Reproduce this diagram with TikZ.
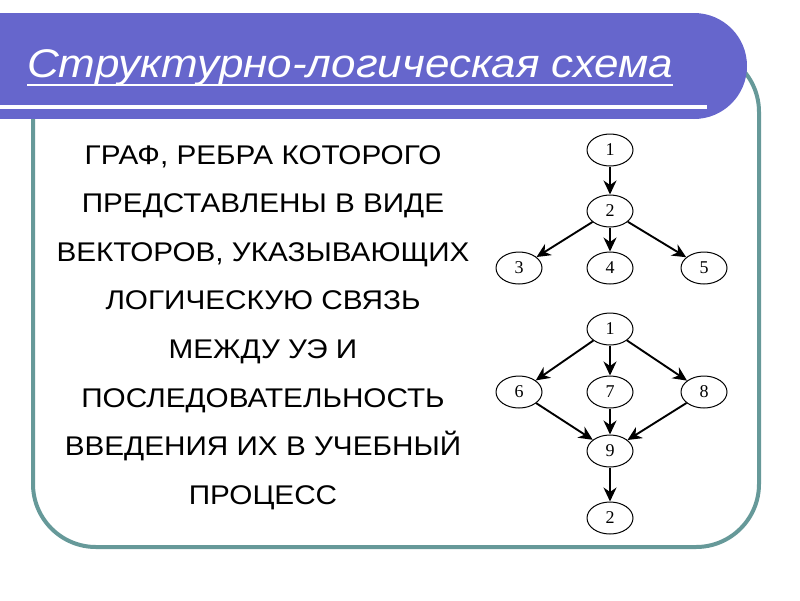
\documentclass[tikz,border=0pt]{standalone}
\usepackage{fontspec}
\setmainfont{Liberation Sans}[FakeStretch=1.1]
\newfontfamily\numfont{Liberation Serif}
\usetikzlibrary{shapes.geometric, arrows.meta}

\definecolor{barblue}{HTML}{6666CC}
\definecolor{frameteal}{HTML}{669999}

\begin{document}
\begin{tikzpicture}[x=1pt, y=-1pt,
	vertex/.style={ellipse, draw, line width=1pt, minimum width=46pt, minimum height=32pt, inner sep=0pt, font=\numfont\fontsize{18}{18}\selectfont},
	edge/.style={-{Stealth[length=14pt, width=13pt, inset=4.5pt]}, line width=1.9pt},
	bodyline/.style={anchor=base, inner sep=0pt, font=\fontsize{27}{27}\selectfont}]

	\useasboundingbox (0,0) rectangle (800,600);

	% frame and title bar
	\draw[frameteal, line width=4pt, rounded corners=63pt] (33,49) rectangle (759,547);

	\fill[barblue] (0,13) rectangle (694,119);
	\fill[barblue] (694,66) ellipse [x radius=53, y radius=53];

	\draw[white, line width=3.5pt] (0,107) -- (707,107);

	\node[anchor=base west, inner sep=0pt, text=white, font=\itshape\fontsize{40}{40}\selectfont] (title) at (27,77) {Структурно-логическая схема};
	\draw[white, line width=2pt] ([yshift=-8pt]title.base west) -- ([yshift=-8pt]title.base east);

	% text on the left
	\foreach \txt [count=\i] in {{ГРАФ, РЕБРА КОТОРОГО}, {ПРЕДСТАВЛЕНЫ В ВИДЕ}, {ВЕКТОРОВ, УКАЗЫВАЮЩИХ}, {ЛОГИЧЕСКУЮ СВЯЗЬ}, {МЕЖДУ УЭ И}, {ПОСЛЕДОВАТЕЛЬНОСТЬ}, {ВВЕДЕНИЯ ИХ В УЧЕБНЫЙ}, {ПРОЦЕСС}}
		\node[bodyline] (line\i) at (263, {164+48.6*(\i-1)}) {\txt};

	% upper graph
	\node[vertex] (t1) at (610,150) {1};
	\node[vertex] (t2) at (610,211) {2};
	\node[vertex] (t3) at (519,268) {3};
	\node[vertex] (t4) at (610,268) {4};
	\node[vertex] (t5) at (704,268) {5};

	\draw[edge] (t1) -- (t2);
	\draw[edge] (t2) -- (t3);
	\draw[edge] (t2) -- (t4);
	\draw[edge] (t2) -- (t5);

	% lower graph
	\node[vertex] (b1) at (610,329) {1};
	\node[vertex] (b6) at (519,392) {6};
	\node[vertex] (b7) at (610,392) {7};
	\node[vertex] (b8) at (704,392) {8};
	\node[vertex] (b9) at (610,451) {9};
	\node[vertex] (b2) at (610,518) {2};

	\draw[edge] (b1) -- (b6);
	\draw[edge] (b1) -- (b7);
	\draw[edge] (b1) -- (b8);
	\draw[edge] (b6) -- (b9);
	\draw[edge] (b7) -- (b9);
	\draw[edge] (b8) -- (b9);
	\draw[edge] (b9) -- (b2);

\end{tikzpicture}
\end{document}
